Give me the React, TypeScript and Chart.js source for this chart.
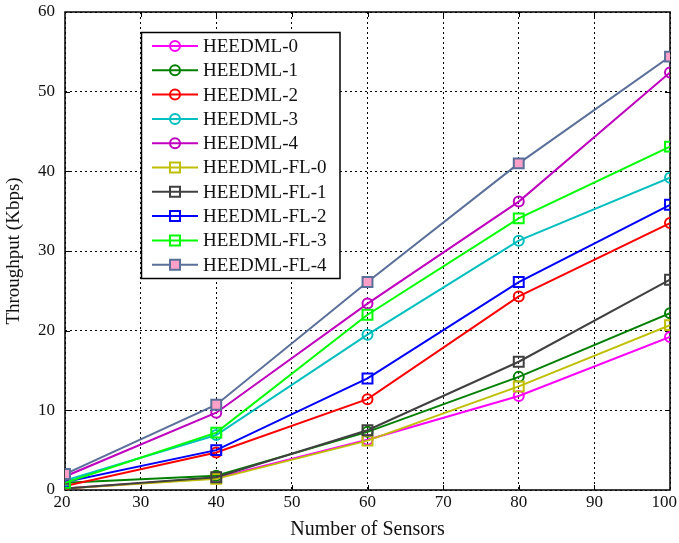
import React, { useEffect, useRef } from "react";
import { Chart, registerables } from "chart.js";

Chart.register(...registerables);

const sensors = [20, 40, 60, 80, 100];
const yTicks = [0, 10, 20, 30, 40, 50, 60];

const heedml0 = [0.2, 1.5, 6.3, 11.8, 19.2];
const heedml1 = [0.9, 1.8, 7.3, 14.2, 22.2];
const heedml2 = [0.5, 4.7, 11.4, 24.3, 33.5];
const heedml3 = [1.2, 6.9, 19.5, 31.3, 39.2];
const heedml4 = [1.7, 9.7, 23.4, 36.2, 52.4];
const heedmlFl0 = [0.2, 1.4, 6.2, 13.0, 20.7];
const heedmlFl1 = [0.2, 1.6, 7.5, 16.1, 26.4];
const heedmlFl2 = [1.0, 5.0, 14.0, 26.1, 35.8];
const heedmlFl3 = [0.9, 7.2, 22.0, 34.1, 43.1];
const heedmlFl4 = [2.0, 10.7, 26.1, 41.0, 54.4];

const seriesNames = [
  "HEEDML-0", "HEEDML-1", "HEEDML-2", "HEEDML-3", "HEEDML-4",
  "HEEDML-FL-0", "HEEDML-FL-1", "HEEDML-FL-2", "HEEDML-FL-3", "HEEDML-FL-4",
];
const seriesValues = [
  heedml0, heedml1, heedml2, heedml3, heedml4,
  heedmlFl0, heedmlFl1, heedmlFl2, heedmlFl3, heedmlFl4,
];
const seriesColors = [
  "#ff00ff", "#008000", "#ff0000", "#00bfbf", "#bf00bf",
  "#bfbf00", "#404040", "#0000ff", "#00ff00", "#5a6f99",
];
const seriesFills = [
  "transparent", "transparent", "transparent", "transparent", "transparent",
  "transparent", "transparent", "transparent", "transparent", "#ffa0c8",
];
const seriesShapes = [
  "circle", "circle", "circle", "circle", "circle",
  "rect", "rect", "rect", "rect", "rect",
];

const FONT = "'Liberation Serif', 'Times New Roman', serif";
const TICK_SIZE = 17;

function drawMarker(ctx: CanvasRenderingContext2D, shape: string, x: number, y: number, stroke: string, fill: string) {
  ctx.save();
  ctx.lineWidth = 2;
  ctx.strokeStyle = stroke;
  ctx.fillStyle = fill;
  ctx.beginPath();
  if (shape === "circle") {
    ctx.arc(x, y, 5, 0, Math.PI * 2);
  } else {
    ctx.rect(x - 5, y - 5, 10, 10);
  }
  if (fill !== "transparent") ctx.fill();
  ctx.stroke();
  ctx.restore();
}

const framePlugin = {
  id: "frame",
  beforeDatasetsDraw(chart: any) {
    const { ctx, chartArea } = chart;
    const { left, right, top, bottom } = chartArea;
    const xs = chart.scales.x;
    const ys = chart.scales.y;
    ctx.save();
    ctx.strokeStyle = "#000";
    ctx.lineWidth = 1;
    ctx.beginPath();
    xs.ticks.forEach((t: any) => {
      if (t.value === xs.min || t.value === xs.max) return;
      const px = Math.round(xs.getPixelForValue(t.value)) + 0.5;
      ctx.moveTo(px, bottom);
      ctx.lineTo(px, bottom - 5);
      ctx.moveTo(px, top);
      ctx.lineTo(px, top + 5);
    });
    yTicks.slice(1, -1).forEach((v) => {
      const py = Math.round(ys.getPixelForValue(v)) + 0.5;
      ctx.moveTo(left, py);
      ctx.lineTo(left + 5, py);
      ctx.moveTo(right, py);
      ctx.lineTo(right - 5, py);
    });
    ctx.stroke();
    ctx.lineWidth = 1.5;
    ctx.strokeRect(left, top, right - left, bottom - top);

    // x tick labels, kept inside the canvas
    ctx.font = `${TICK_SIZE}px ${FONT}`;
    ctx.fillStyle = "#111";
    ctx.textBaseline = "middle";
    ctx.textAlign = "center";
    xs.ticks.forEach((t: any, i: number) => {
      const label = String(t.value);
      const w = ctx.measureText(label).width;
      let cx = xs.getPixelForValue(t.value);
      if (i === 0) cx -= 3;
      cx = Math.min(cx, chart.width - 2 - w / 2);
      ctx.fillText(label, cx, bottom + 13);
    });
    ctx.restore();
  },
};

const legendPlugin = {
  id: "boxLegend",
  afterDraw(chart: any) {
    const { ctx } = chart;
    const bx = 141.5, by = 32.5, bw = 198.5, bh = 246;
    ctx.save();
    ctx.fillStyle = "#fff";
    ctx.fillRect(bx, by, bw, bh);
    ctx.strokeStyle = "#000";
    ctx.lineWidth = 1.5;
    ctx.strokeRect(bx, by, bw, bh);
    ctx.font = `19px ${FONT}`;
    ctx.textBaseline = "middle";
    ctx.textAlign = "left";
    seriesNames.forEach((name, i) => {
      const y = 46 + i * 24.3;
      ctx.strokeStyle = seriesColors[i];
      ctx.lineWidth = 2;
      ctx.beginPath();
      ctx.moveTo(152, y);
      ctx.lineTo(198, y);
      ctx.stroke();
      drawMarker(ctx, seriesShapes[i], 175, y, seriesColors[i], seriesFills[i]);
      ctx.fillStyle = "#111";
      ctx.fillText(name, 203, y + 1);
    });
    ctx.restore();
  },
};

export default function App() {
  const canvasRef = useRef<HTMLCanvasElement | null>(null);

  useEffect(() => {
    document.body.style.margin = "0";
    const canvas = canvasRef.current;
    if (!canvas) return;
    Chart.defaults.font.family = FONT;
    Chart.defaults.color = "#111";

    const datasets = seriesNames.map((name, i) => ({
      label: name,
      data: sensors.map((s, j) => ({ x: s, y: seriesValues[i][j] })),
      borderColor: seriesColors[i],
      backgroundColor: seriesFills[i],
      borderWidth: 2,
      pointStyle: seriesShapes[i],
      pointRadius: seriesShapes[i] === "circle" ? 5 : 7,
      pointBorderWidth: 2,
      pointBorderColor: seriesColors[i],
      pointBackgroundColor: seriesFills[i],
      tension: 0,
      fill: false,
      order: 9 - i,
    }));

    const chart = new Chart(canvas, {
      type: "line",
      data: { datasets },
      options: {
        animation: false,
        responsive: false,
        maintainAspectRatio: false,
        layout: { padding: { top: 12, right: 9, left: 0, bottom: 0 } },
        plugins: {
          legend: { display: false },
          tooltip: { enabled: false },
        },
        scales: {
          x: {
            type: "linear",
            min: 20,
            max: 100,
            ticks: {
              stepSize: 10,
              padding: 5,
              font: { size: TICK_SIZE, family: FONT },
              color: "transparent",
              maxRotation: 0,
            },
            grid: {
              color: "#000",
              lineWidth: 1,
              drawTicks: false,
            },
            border: { display: false, dash: [2, 3] },
            title: {
              display: true,
              text: "Number of Sensors",
              font: { size: 20, family: FONT },
              color: "#111",
              padding: { top: 0, bottom: 1 },
            },
            afterFit(scale: any) {
              scale.height = 53;
              scale.paddingLeft = 0;
              scale.paddingRight = 0;
            },
          },
          y: {
            type: "linear",
            min: 0,
            max: 60,
            ticks: {
              stepSize: 10,
              padding: 10,
              font: { size: TICK_SIZE, family: FONT },
              color: "#111",
            },
            grid: {
              color: "#000",
              lineWidth: 1,
              drawTicks: false,
            },
            border: { display: false, dash: [2, 3] },
            title: {
              display: true,
              text: "Throughput (Kbps)",
              font: { size: 19, family: FONT },
              color: "#111",
              padding: { top: 3, bottom: 0 },
            },
            afterFit(scale: any) {
              scale.width = 65;
              scale.paddingTop = 0;
              scale.paddingBottom = 0;
            },
          },
        },
      },
      plugins: [framePlugin, legendPlugin],
    } as any);

    return () => chart.destroy();
  }, []);

  return (
    <div style={{ width: 679, height: 543 }}>
      <canvas ref={canvasRef} width={679} height={543} style={{ display: "block" }} />
    </div>
  );
}
